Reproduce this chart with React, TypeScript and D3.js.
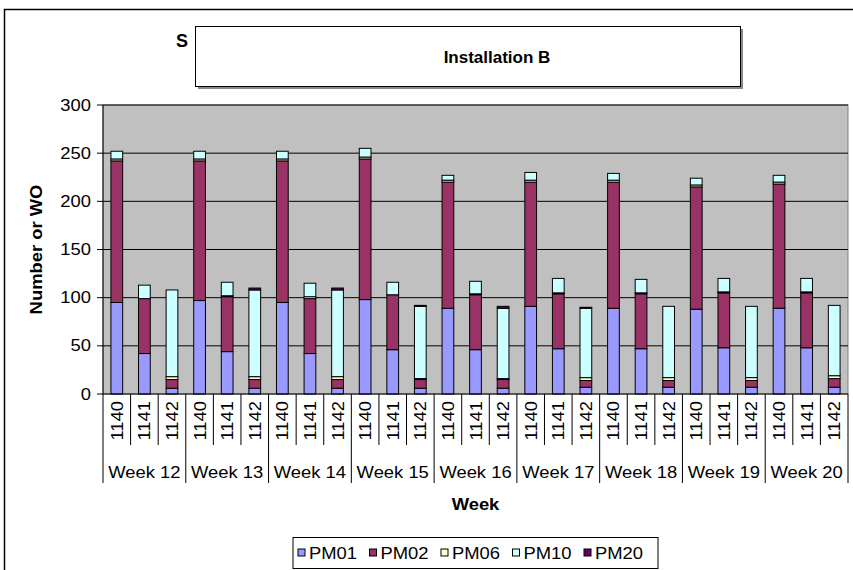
import React from "react";
import * as d3 from "d3";

const weeks = ["Week 12", "Week 13", "Week 14", "Week 15", "Week 16", "Week 17", "Week 18", "Week 19", "Week 20"];
const sites = ["1140", "1141", "1142"];
const seriesNames = ["PM01", "PM02", "PM06", "PM10", "PM20"];
const seriesColors = ["#9999FF", "#993366", "#FFFFCC", "#CCFFFF", "#660066"];

// values in order W12-1140, W12-1141, W12-1142, W13-1140, ...
const PM01 = [95, 42, 6, 97, 44, 6, 95, 42, 6, 98, 46, 6, 89, 46, 6, 91, 47, 7, 89, 47, 7, 88, 48, 7, 89, 48, 7];
const PM02 = [147, 57, 9, 145, 57, 9, 147, 57, 9, 146, 57, 9, 131, 57, 9, 129, 57, 7, 131, 57, 7, 127, 57, 7, 129, 57, 9];
const PM06 = [2, 0, 3, 2, 1, 3, 2, 2, 3, 2, 0, 1, 2, 1, 1, 2, 1, 3, 2, 1, 3, 2, 1, 3, 2, 1, 3];
const PM10 = [8, 14, 90, 8, 14, 90, 8, 14, 90, 9, 13, 75, 5, 13, 73, 8, 15, 72, 7, 14, 74, 7, 14, 74, 7, 14, 73];
const PM20 = [0, 0, 0, 0, 0, 2, 0, 0, 2, 0, 0, 1, 0, 0, 2, 0, 0, 1, 0, 0, 0, 0, 0, 0, 0, 0, 0];
const yTicks = [0, 50, 100, 150, 200, 250, 300];

const seriesValues = [PM01, PM02, PM06, PM10, PM20];

const SX = 1.15;

function T(props: { x: number; y: number; rot?: number; anchor?: string; size?: number; bold?: boolean; children: any }) {
  const { x, y, rot = 0, anchor = "start", size = 16, bold = false, children } = props;
  return (
    <text
      transform={`translate(${x},${y})${rot ? ` rotate(${rot})` : ""} scale(${SX},1)`}
      textAnchor={anchor}
      fontSize={size}
      fontWeight={bold ? "bold" : "normal"}
    >
      {children}
    </text>
  );
}

export default function App() {
  const W = 853, H = 570;
  const left = 103, right = 848, top = 105, bottom = 394;
  const font = "'Liberation Sans', Arial, sans-serif";

  const keys = weeks.flatMap((w) => sites.map((s) => `${w}|${s}`));
  const rows = keys.map((k, i) => {
    const r: any = { key: k };
    seriesNames.forEach((n, j) => (r[n] = seriesValues[j][i]));
    return r;
  });
  const stacked = d3.stack().keys(seriesNames)(rows as any);

  const x = d3.scaleBand().domain(keys).range([left, right]).paddingInner(0.575).paddingOuter(0.2875);
  const step = x.step();
  const y = d3.scaleLinear().domain([0, 300]).range([bottom, top]);

  const legendItemW = 71.5;
  const legendW = 365;
  const legendX = (left + right) / 2 - legendW / 2;

  return (
    <svg width={W} height={H} style={{ position: "absolute", left: 0, top: 0, background: "#fff" }} fontFamily={font}>
      <rect x={4.5} y={9.5} width={900} height={600} fill="#fff" stroke="#000" strokeWidth={1.5} />
      <text x={176} y={47} fontSize={18} fontWeight="bold">S</text>
      <rect x={198} y={29} width={545} height={60} fill="#888" />
      <rect x={195.5} y={26.5} width={545} height={60} fill="#fff" stroke="#000" strokeWidth={1} />
      <text x={497} y={63} textAnchor="middle" fontSize={17} fontWeight="bold">Installation B</text>

      <rect x={left} y={top} width={right - left} height={bottom - top} fill="#C0C0C0" stroke="#808080" strokeWidth={1} />
      {yTicks.slice(1).map((t) => (
        <line key={t} x1={left} x2={right} y1={y(t)} y2={y(t)} stroke="#000" strokeWidth={1} />
      ))}
      {stacked.map((layer, li) =>
        layer.map((d, i) => (
          <rect
            key={`${li}-${i}`}
            x={x(keys[i])!}
            y={y(d[1])}
            width={x.bandwidth()}
            height={Math.max(0, y(d[0]) - y(d[1]))}
            fill={seriesColors[li]}
            stroke="#000"
            strokeWidth={1}
          />
        ))
      )}
      {/* y axis */}
      <line x1={left} x2={left} y1={top} y2={bottom} stroke="#000" strokeWidth={1} />
      {yTicks.map((t) => (
        <g key={t}>
          <line x1={left - 6} x2={left} y1={y(t)} y2={y(t)} stroke="#000" />
          <T x={left - 12} y={y(t) + 5.5} anchor="end">{t}</T>
        </g>
      ))}
      <T x={42} y={(top + bottom) / 2} rot={-90} anchor="middle" bold>Number or WO</T>

      {/* category axis */}
      <line x1={left} x2={right} y1={bottom} y2={bottom} stroke="#000" />
      {keys.map((k, i) => {
        const xb = left + step * i;
        const isGroup = i % 3 === 0;
        return <line key={`s${i}`} x1={xb} x2={xb} y1={bottom} y2={isGroup ? 483 : 445} stroke="#000" />;
      })}
      <line x1={right} x2={right} y1={bottom} y2={483} stroke="#000" />
      {keys.map((k, i) => {
        const cx = x(k)! + x.bandwidth() / 2;
        return (
          <T key={`l${i}`} x={cx + 6} y={401} rot={-90} anchor="end">{k.split("|")[1]}</T>
        );
      })}
      {weeks.map((w, gi) => (
        <T key={w} x={left + step * (gi * 3 + 1.5)} y={478} anchor="middle">{w}</T>
      ))}
      <T x={(left + right) / 2} y={510} anchor="middle" bold>Week</T>

      {/* legend */}
      <rect x={legendX} y={537.5} width={legendW} height={31} fill="#fff" stroke="#000" />
      {seriesNames.map((n, i) => {
        const lx = legendX + 5 + i * legendItemW;
        return (
          <g key={n}>
            <rect x={lx} y={549} width={7} height={7} fill={seriesColors[i]} stroke="#000" />
            <T x={lx + 11} y={558.5}>{n}</T>
          </g>
        );
      })}
    </svg>
  );
}
